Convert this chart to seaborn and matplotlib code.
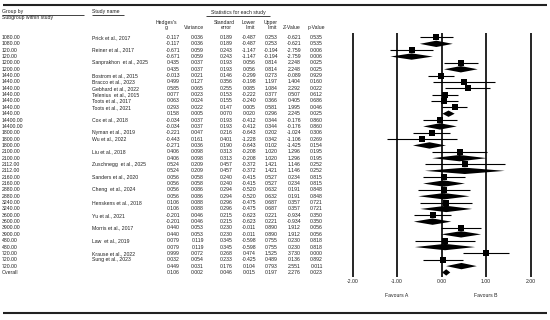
import matplotlib
matplotlib.use("Agg")
import matplotlib.pyplot as plt
import pandas as pd
import seaborn as sns

sns.set_theme(style="white")
plt.rcParams["font.family"] = ["Liberation Sans", "DejaVu Sans"]

# 표 데이터 (행 순서 그대로)
groups = [
    "1080.00", "1080.00", "120.00", "120.00", "1200.00", "1200.00",
    "1440.00", "1440.00", "1440.00", "1440.00", "1440.00", "1440.00", "1440.00",
    "14400.00", "14400.00", "1800.00", "1800.00", "1800.00",
    "2100.00", "2100.00", "2112.00", "2112.00", "2160.00", "2160.00",
    "2880.00", "2880.00", "3240.00", "3240.00", "3600.00", "3600.00",
    "3900.00", "3900.00", "480.00", "480.00",
    "720.00", "720.00", "720.00", "Overall",
]
studies = [
    "Prick et al., 2017", "", "Reiner et al., 2017", "",
    "Sanprakhon  et al., 2025", "",
    "Bostrom et al., 2015", "Bracco et al., 2023", "Gebhard et al., 2022",
    "Telenius  et al., 2015", "Toots et al., 2017", "Toots et al., 2021", "",
    "Cox et al., 2018", "", "Nyman et al., 2019", "Wu et al., 2022", "",
    "Liu et al., 2018", "", "Zuschnegg  et al., 2025", "",
    "Sanders et al., 2020", "", "Cheng  et al., 2024", "",
    "Henskens et al., 2018", "", "Yu et al., 2021", "",
    "Morris et al., 2017", "", "Law  et al., 2019", "",
    "Krause et al., 2022", "Sung et al., 2023", "", "",
]
hedges_g = [
    -0.117, -0.117, -0.671, -0.671, 0.435, 0.435,
    -0.013, 0.499, 0.585, 0.077, 0.063, 0.293, 0.158,
    -0.034, -0.034, -0.221, -0.443, -0.271,
    0.406, 0.406, 0.524, 0.524, 0.056, 0.056,
    0.056, 0.056, 0.106, 0.106, -0.201, -0.201,
    0.440, 0.440, 0.079, 0.079,
    0.999, 0.032, 0.449, 0.106,
]
variance = [
    0.036, 0.036, 0.059, 0.059, 0.037, 0.037,
    0.021, 0.127, 0.065, 0.023, 0.024, 0.022, 0.005,
    0.037, 0.037, 0.047, 0.161, 0.036,
    0.098, 0.098, 0.209, 0.209, 0.058, 0.058,
    0.086, 0.086, 0.088, 0.088, 0.046, 0.046,
    0.053, 0.053, 0.119, 0.119,
    0.072, 0.054, 0.031, 0.002,
]
std_err = [
    0.189, 0.189, 0.243, 0.243, 0.193, 0.193,
    0.146, 0.356, 0.255, 0.153, 0.155, 0.147, 0.070,
    0.193, 0.193, 0.216, 0.401, 0.190,
    0.313, 0.313, 0.457, 0.457, 0.240, 0.240,
    0.294, 0.294, 0.296, 0.296, 0.215, 0.215,
    0.230, 0.230, 0.345, 0.345,
    0.268, 0.233, 0.176, 0.046,
]
lower = [
    -0.487, -0.487, -1.147, -1.147, 0.056, 0.056,
    -0.299, -0.198, 0.085, -0.222, -0.240, 0.005, 0.020,
    -0.412, -0.412, -0.643, -1.228, -0.643,
    -0.208, -0.208, -0.372, -0.372, -0.415, -0.415,
    -0.520, -0.520, -0.475, -0.475, -0.623, -0.623,
    -0.011, -0.011, -0.598, -0.598,
    0.474, -0.425, 0.104, 0.015,
]
upper = [
    0.253, 0.253, -0.194, -0.194, 0.814, 0.814,
    0.273, 1.197, 1.084, 0.377, 0.366, 0.581, 0.296,
    0.344, 0.344, 0.202, 0.342, 0.102,
    1.020, 1.020, 1.421, 1.421, 0.527, 0.527,
    0.632, 0.632, 0.687, 0.687, 0.221, 0.221,
    0.890, 0.890, 0.755, 0.755,
    1.525, 0.489, 0.793, 0.197,
]
z_value = [
    -0.621, -0.621, -2.759, -2.759, 2.248, 2.248,
    -0.089, 1.404, 2.292, 0.507, 0.405, 1.995, 2.245,
    -0.176, -0.176, -1.024, -1.106, -1.425,
    1.296, 1.296, 1.146, 1.146, 0.234, 0.234,
    0.191, 0.191, 0.357, 0.357, -0.934, -0.934,
    1.912, 1.912, 0.230, 0.230,
    3.730, 0.136, 2.551, 2.276,
]
p_value = [
    0.535, 0.535, 0.006, 0.006, 0.025, 0.025,
    0.929, 0.160, 0.022, 0.612, 0.686, 0.046, 0.025,
    0.860, 0.860, 0.306, 0.269, 0.154,
    0.195, 0.195, 0.252, 0.252, 0.815, 0.815,
    0.848, 0.848, 0.721, 0.721, 0.350, 0.350,
    0.056, 0.056, 0.818, 0.818,
    0.000, 0.892, 0.011, 0.023,
]

rows = pd.DataFrame({
    "group": groups, "study": studies, "g": hedges_g, "var": variance,
    "se": std_err, "lo": lower, "hi": upper, "z": z_value, "p": p_value,
})
rows["row"] = range(len(rows))
rows["is_study"] = rows["study"] != ""

# 레이아웃: 픽셀 단위 -> 행 단위
ROW_TOP_PX = 37.5
ROW_PITCH = 6.35
FS = 3.7


def py(px):
    return (px - ROW_TOP_PX) / ROW_PITCH


fig = plt.figure(figsize=(5.5, 3.2), dpi=100)
ax_t = fig.add_axes([0, 0, 1, 1])
ax_t.set_xlim(0, 550)
ax_t.set_ylim(py(320), py(0))
ax_t.axis("off")

# 위/아래 굵은 선
ax_t.hlines([py(5), py(313)], 3, 547, color="#222222", lw=1.5)

# 헤더
txt = dict(fontsize=FS, color="#222222", va="center")
ax_t.text(2, py(12), "Group by", ha="left", **txt)
ax_t.hlines(py(14.6), 2, 84, color="#222222", lw=0.6)
ax_t.text(2, py(17.5), "Subgroup within study", ha="left", **txt)
ax_t.text(92, py(12), "Study name", ha="left", **txt)
ax_t.hlines(py(14.6), 92, 124, color="#222222", lw=0.6)
ax_t.text(238, py(13), "Statistics for each study", ha="center", **txt)
ax_t.hlines(py(15.6), 206, 270, color="#222222", lw=0.6)

col_right = {"g": 180, "var": 204, "se": 233, "lo": 256, "hi": 278, "z": 301, "p": 323}
ax_t.text(166, py(22.5), "Hedges's", ha="center", **txt)
ax_t.text(166, py(28), "g", ha="center", **txt)
ax_t.text(204, py(28), "Variance", ha="right", **txt)
ax_t.text(224, py(22.5), "Standard", ha="center", **txt)
ax_t.text(226, py(28), "error", ha="center", **txt)
ax_t.text(249, py(22.5), "Lower", ha="center", **txt)
ax_t.text(250, py(28), "limit", ha="center", **txt)
ax_t.text(271, py(22.5), "Upper", ha="center", **txt)
ax_t.text(272, py(28), "limit", ha="center", **txt)
ax_t.text(301, py(28), "Z-Value", ha="right", **txt)
ax_t.text(325, py(28), "p-Value", ha="right", **txt)

for _, r in rows.iterrows():
    ax_t.text(2, r["row"], r["group"], ha="left", **txt)
    ax_t.text(92, r["row"], r["study"], ha="left", **txt)
    for col, x in col_right.items():
        ax_t.text(x, r["row"], f"{r[col]:.3f}", ha="right", **txt)

# 포레스트 플롯
ZERO_PX, UNIT_PX = 441.5, 44.5
left_px, right_px = 335, 545
ax_f = fig.add_axes([left_px / 550, 0, (right_px - left_px) / 550, 1])
ax_f.set_xlim((left_px - ZERO_PX) / UNIT_PX, (right_px - ZERO_PX) / UNIT_PX)
ax_f.set_ylim(py(320), py(0))
ax_f.axis("off")
ax_f.patch.set_alpha(0)

ticks = [-2, -1, 0, 1, 2]
ax_f.vlines(ticks, py(33), py(277), color="black", lw=1.2)
for t in ticks:
    ax_f.text(t, py(282), f"{t:.2f}", ha="center", **txt)
ax_f.text(-1, py(296), "Favours A", ha="center", **txt)
ax_f.text(1, py(296), "Favours B", ha="center", **txt)

study_rows = rows[rows["is_study"]]
ax_f.hlines(study_rows["row"], study_rows["lo"], study_rows["hi"], color="black", lw=0.8)
sns.scatterplot(data=study_rows, x="g", y="row", marker="s", s=20, color="black",
                linewidth=0, legend=False, ax=ax_f, zorder=3)

half_h = 0.5
for _, r in rows[~rows["is_study"]].iterrows():
    ax_f.fill([r["lo"], r["g"], r["hi"], r["g"]],
              [r["row"], r["row"] - half_h, r["row"], r["row"] + half_h],
              color="black", lw=0, zorder=3)

fig.savefig("out.png", dpi=100)
